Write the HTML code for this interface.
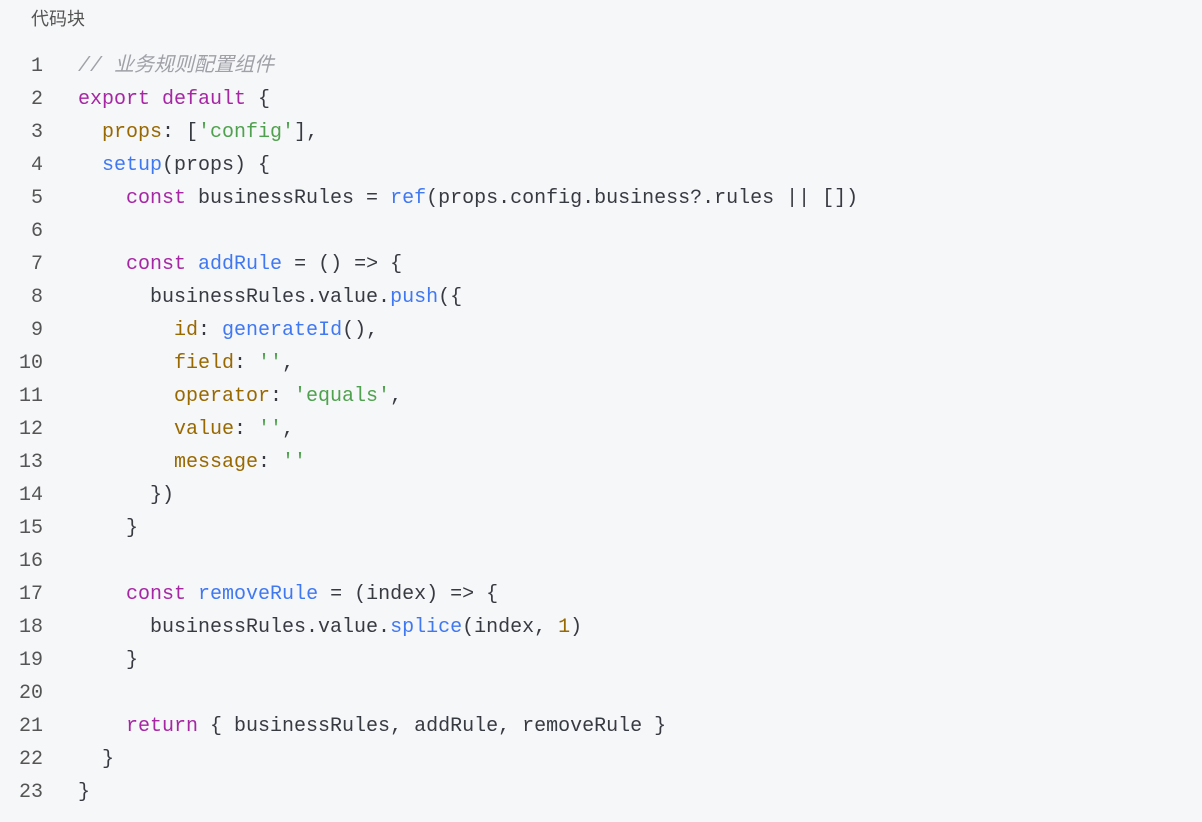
<!DOCTYPE html>
<html><head><meta charset="utf-8"><style>
html,body{margin:0;padding:0;background:#f6f7f9;width:1202px;height:822px;overflow:hidden}
.hd{position:absolute;left:31px;top:6px;font:18px "Liberation Sans","Noto Sans CJK SC",sans-serif;color:#555;line-height:26px}
.code{position:absolute;left:0;top:50px;font:20px "Liberation Mono","Noto Sans CJK SC",monospace;color:#383a42;line-height:33px;white-space:pre}
.ln{display:inline-block;width:43px;text-align:right;color:#555;margin-right:35px}
.k{color:#a626a4}.s{color:#50a14f}.p{color:#986801}.f{color:#4078f2}.c{color:#a0a1a7;font-style:italic}
</style></head><body>
<div class="hd">代码块</div>
<div class="code"><span class="ln">1</span><span class="c">// 业务规则配置组件</span>
<span class="ln">2</span><span class="k">export</span> <span class="k">default</span> {
<span class="ln">3</span>  <span class="p">props</span>: [<span class="s">'config'</span>],
<span class="ln">4</span>  <span class="f">setup</span>(props) {
<span class="ln">5</span>    <span class="k">const</span> businessRules = <span class="f">ref</span>(props.config.business?.rules || [])
<span class="ln">6</span>
<span class="ln">7</span>    <span class="k">const</span> <span class="f">addRule</span> = () =&gt; {
<span class="ln">8</span>      businessRules.value.<span class="f">push</span>({
<span class="ln">9</span>        <span class="p">id</span>: <span class="f">generateId</span>(),
<span class="ln">10</span>        <span class="p">field</span>: <span class="s">''</span>,
<span class="ln">11</span>        <span class="p">operator</span>: <span class="s">'equals'</span>,
<span class="ln">12</span>        <span class="p">value</span>: <span class="s">''</span>,
<span class="ln">13</span>        <span class="p">message</span>: <span class="s">''</span>
<span class="ln">14</span>      })
<span class="ln">15</span>    }
<span class="ln">16</span>
<span class="ln">17</span>    <span class="k">const</span> <span class="f">removeRule</span> = (index) =&gt; {
<span class="ln">18</span>      businessRules.value.<span class="f">splice</span>(index, <span class="p">1</span>)
<span class="ln">19</span>    }
<span class="ln">20</span>
<span class="ln">21</span>    <span class="k">return</span> { businessRules, addRule, removeRule }
<span class="ln">22</span>  }
<span class="ln">23</span>}</div>
</body></html>
